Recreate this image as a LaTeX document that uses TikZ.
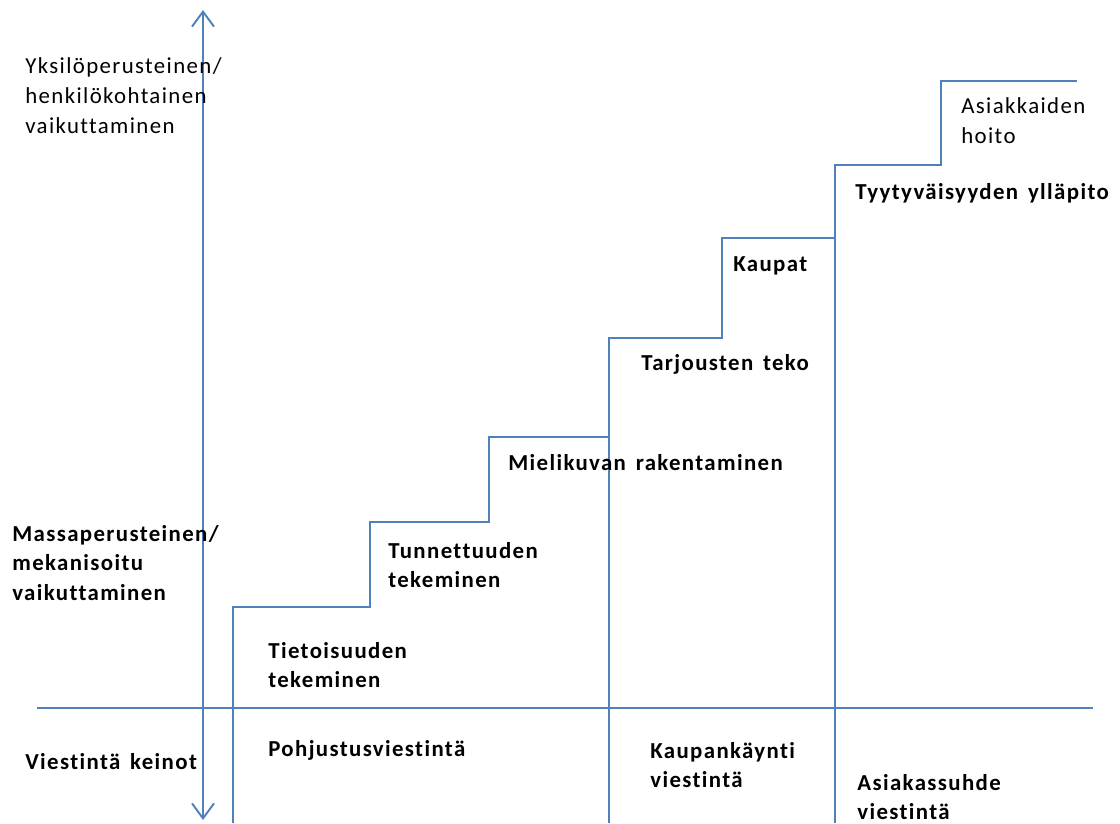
\documentclass[tikz,border=0pt]{standalone}
\usepackage{fontspec}
\setmainfont{Carlito}[LetterSpace=6,WordSpace=1.5,Ligatures=CommonOff]
\usetikzlibrary{positioning,arrows.meta}
\definecolor{stairBlue}{HTML}{4F81BD}

\begin{document}
\begin{tikzpicture}[
            x=0.2mm, y=-0.2mm,
            stair/.style={
                    draw=stairBlue,
                    line width=1.1pt
                },
            axis/.style={
                    stair,
                    {Straight Barb[length=3mm,width=4.4mm]}-{Straight Barb[length=3mm,width=4.4mm]}
                },
            phase/.style={
                    anchor=west,
                    align=left,
                    inner sep=0pt,
                    font=\bfseries\fontsize{13}{17}\selectfont
                },
            level/.style={
                    phase,
                    font=\fontsize{13}{17}\selectfont
                }
        ]
        \useasboundingbox (0,0) rectangle (1120,823);

        % Akselit
        \coordinate (top) at (203,10);
        \coordinate (bottom) at (203,820);
        \coordinate (hleft) at (37,708);
        \coordinate (hright) at (1093,708);
        \draw[axis] (top) -- (bottom);
        \draw[stair] (hleft) -- (hright);

        % Portaat
        \coordinate (s0) at (233,823);
        \coordinate (s1) at (370,607);
        \coordinate (s2) at (489,522);
        \coordinate (s3) at (609,437);
        \coordinate (s4) at (722,338);
        \coordinate (s5) at (835,238);
        \coordinate (s6) at (941,165);
        \coordinate (s7) at (1077,81);
        \draw[stair] (s0) |- (s1) |- (s2) |- (s3) |- (s4) |- (s5) |- (s6) |- (s7);
        \draw[stair] (s3) -- (s3 |- s0);
        \draw[stair] (s5) -- (s5 |- s0);

        % Akselin tekstit
        \node[level] (personal) at (25,96) {Yksilöperusteinen/\\henkilökohtainen\\vaikuttaminen};
        \node[phase] (mass) at (12,563) {Massaperusteinen/\\mekanisoitu\\vaikuttaminen};
        \node[phase] (means) at (25,762) {Viestintä keinot};

        % Portaiden tekstit
        \node[phase] (aware) at (268,665) {Tietoisuuden\\tekeminen};
        \node[phase] (known) at (388,565) {Tunnettuuden\\tekeminen};
        \node[phase] (image) at (508,463) {Mielikuvan rakentaminen};
        \node[phase] (offers) at (641,364) {Tarjousten teko};
        \node[phase] (sales) at (733,266) {Kaupat};
        \node[phase] (satisfy) at (855,193) {Tyytyväisyyden ylläpito};
        \node[level] (care) at (961,121) {Asiakkaiden\\hoito};

        % Viestintä
        \node[phase] (prep) at (268,750) {Pohjustusviestintä};
        \node[phase] (trade) at (650,765) {Kaupankäynti\\viestintä};
        \node[phase] (relation) at (857,797) {Asiakassuhde\\viestintä};

    \end{tikzpicture}
\end{document}
